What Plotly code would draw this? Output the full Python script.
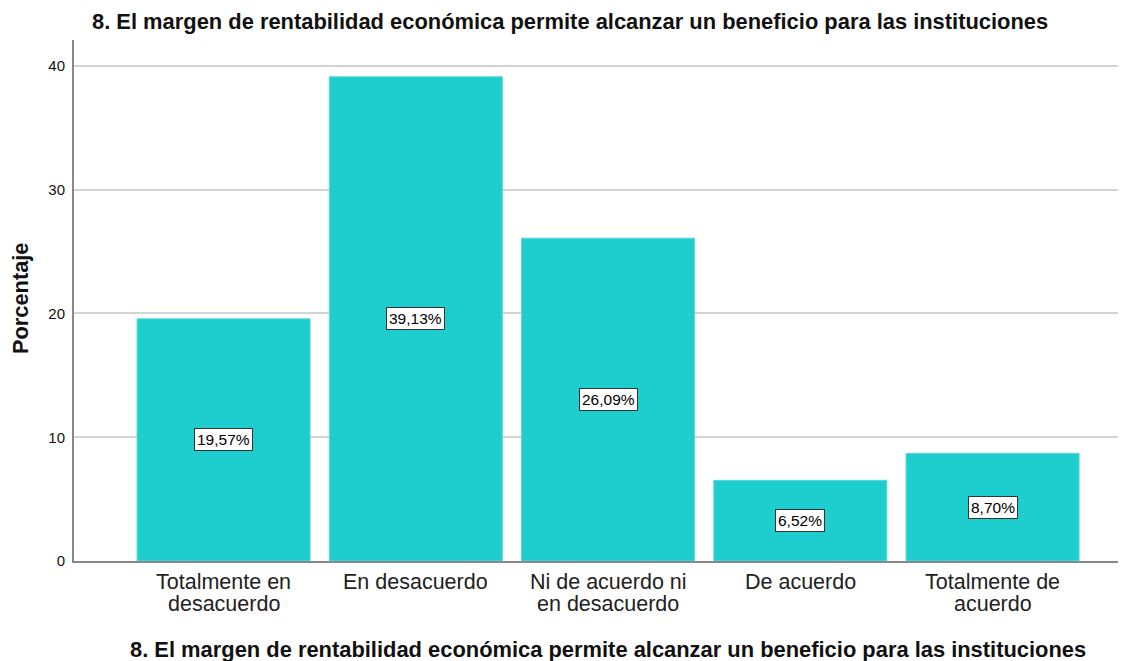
import plotly.graph_objects as go

categories = [["Totalmente en", "desacuerdo"], ["En desacuerdo"], ["Ni de acuerdo ni", "en desacuerdo"],
              ["De acuerdo"], ["Totalmente de", "acuerdo"]]
values = [19.57, 39.13, 26.09, 6.52, 8.70]
labels = ["19,57%", "39,13%", "26,09%", "6,52%", "8,70%"]
y_ticks = [0, 10, 20, 30, 40]
title_text = "8. El margen de rentabilidad económica permite alcanzar un beneficio para las instituciones"
y_title = "Porcentaje"

FONT = "Arial, Liberation Sans, sans-serif"
# page body has an 8px margin, so the figure is 8px smaller on each axis
W, H = 1118, 653
L, R, T, B = 66, 0, 32, 100
PW, PH = W - L - R, H - T - B

fig = go.Figure()
fig.add_trace(go.Bar(
    x=list(range(len(categories))), y=values,
    marker=dict(color="#1ecdcd", line=dict(color="#5fd8d8", width=1)),
    hoverinfo="skip",
))

# value labels in boxes at bar mid-height
for i, (v, t) in enumerate(zip(values, labels)):
    fig.add_annotation(x=i, y=v / 2, text=t, showarrow=False,
                       font=dict(family=FONT, size=15.5, color="#000"),
                       bgcolor="white", bordercolor="#333", borderwidth=1, borderpad=2)

# category labels (two tight lines)
for i, lines in enumerate(categories):
    for j, line in enumerate(lines):
        fig.add_annotation(x=i, xref="x", y=0, yref="paper", yanchor="top",
                           yshift=-7 - 22 * j, text=line, showarrow=False,
                           font=dict(family=FONT, size=21.5, color="#222"))

# top title
fig.add_annotation(x=(562 - L) / PW, xref="paper", y=1, yref="paper",
                   yanchor="middle", yshift=T - 13,
                   text="<b>" + title_text + "</b>", showarrow=False,
                   font=dict(family=FONT, size=21.9, color="#111"))
# bottom (x axis) title
fig.add_annotation(x=(600 - L) / PW, xref="paper", y=0, yref="paper",
                   yanchor="middle", yshift=-88,
                   text="<b>" + title_text + "</b>", showarrow=False,
                   font=dict(family=FONT, size=21.9, color="#111"))
# y axis title
fig.add_annotation(x=(12 - L) / PW, xref="paper", y=(553 - 291) / PH, yref="paper",
                   xanchor="center", yanchor="middle", textangle=-90,
                   text="<b>" + y_title + "</b>", showarrow=False,
                   font=dict(family=FONT, size=21.8, color="#111"))

fig.update_layout(
    width=W, height=H,
    margin=dict(l=L, r=R, t=T, b=B, autoexpand=False),
    paper_bgcolor="white", plot_bgcolor="white",
    showlegend=False, bargap=0.1,
    xaxis=dict(range=[-0.778, 4.694], showticklabels=False, showgrid=False, showline=True,
               linecolor="#888", linewidth=2, ticks="", automargin=False, zeroline=False),
    yaxis=dict(range=[0, 42.1], tickvals=y_ticks, showgrid=True, gridcolor="#d4d4d4",
               gridwidth=2, showline=True, linecolor="#888", linewidth=2, ticks="outside",
               ticklen=4, tickcolor="white", zeroline=False, automargin=False,
               tickfont=dict(family=FONT, size=15, color="#111")),
)

fig.write_html("out.html")
